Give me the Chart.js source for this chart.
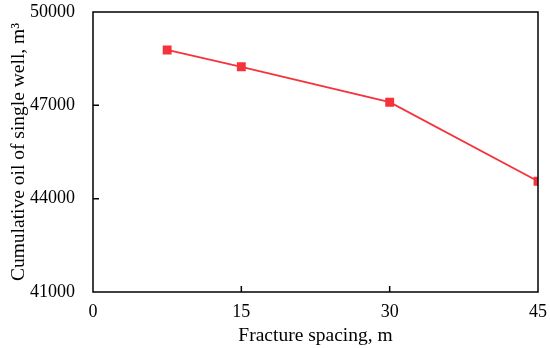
<!DOCTYPE html>
<html>
<head>
<meta charset="utf-8">
<script src="https://cdn.jsdelivr.net/npm/chart.js@4"></script>
<style>
  html, body { margin: 0; padding: 0; background: #fff; }
  #wrap { width: 550px; height: 348px; }
</style>
</head>
<body>
<div id="wrap"><canvas id="grafico" width="550" height="348"></canvas></div>
<script>
const spacing = [7.5, 15, 30, 45];
const cumOil = [48780, 48240, 47100, 44560];
const xTicks = [0, 15, 30, 45];
const yTicks = [41000, 44000, 47000, 50000];

const serif = 'Liberation Serif';

// moldura + ticks para dentro
const frame = {
  id: 'frame',
  afterDraw(chart) {
    const ctx = chart.ctx;
    const a = chart.chartArea;
    const x = chart.scales.x, y = chart.scales.y;
    ctx.save();
    ctx.strokeStyle = '#000';
    ctx.lineWidth = 1.5;
    ctx.strokeRect(a.left, a.top, a.right - a.left, a.bottom - a.top);
    ctx.beginPath();
    xTicks.slice(1, -1).forEach(v => {
      const px = x.getPixelForValue(v);
      ctx.moveTo(px, a.bottom);
      ctx.lineTo(px, a.bottom - 6);
    });
    yTicks.slice(1, -1).forEach(v => {
      const py = y.getPixelForValue(v);
      ctx.moveTo(a.left, py);
      ctx.lineTo(a.left + 6, py);
    });
    ctx.stroke();
    ctx.restore();
  }
};

new Chart(document.getElementById('grafico'), {
  type: 'line',
  data: {
    datasets: [{
      data: spacing.map((s, i) => ({ x: s, y: cumOil[i] })),
      borderColor: '#f5333b',
      backgroundColor: '#f5333b',
      borderWidth: 1.8,
      pointStyle: 'rect',
      pointRadius: 5,
      pointHoverRadius: 5,
      tension: 0
    }]
  },
  options: {
    responsive: false,
    animation: false,
    layout: { padding: { top: 12, right: 12, left: 0, bottom: 0 } },
    plugins: { legend: { display: false }, tooltip: { enabled: false } },
    scales: {
      x: {
        type: 'linear',
        min: 0, max: 45,
        afterBuildTicks(s) { s.ticks = xTicks.map(v => ({ value: v })); },
        afterFit(s) { s.height = 56; s.paddingLeft = 0; s.paddingRight = 0; },
        grid: { display: false },
        border: { display: false },
        ticks: { color: '#000', font: { family: serif, size: 18 }, padding: 1, maxRotation: 0 },
        title: {
          display: true,
          text: 'Fracture spacing, m',
          color: '#000',
          font: { family: serif, size: 19.5 },
          padding: { top: 0, bottom: 0 }
        }
      },
      y: {
        min: 41000, max: 50000,
        afterBuildTicks(s) { s.ticks = yTicks.map(v => ({ value: v })); },
        afterFit(s) { s.width = 93; s.paddingTop = 0; s.paddingBottom = 0; },
        grid: { display: false },
        border: { display: false },
        ticks: { color: '#000', font: { family: serif, size: 18 }, padding: 10, callback: v => String(v) },
        title: {
          display: true,
          text: 'Cumulative oil of single well, m³',
          color: '#000',
          font: { family: serif, size: 19.5 },
          padding: { top: 7, bottom: 1 }
        }
      }
    }
  },
  plugins: [frame]
});
</script>
</body>
</html>
